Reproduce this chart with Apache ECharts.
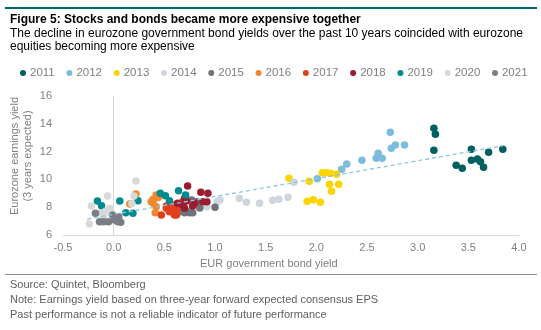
<!DOCTYPE html>
<html>
<head>
<meta charset="utf-8">
<script src="https://cdn.jsdelivr.net/npm/echarts@6/dist/echarts.min.js"></script>
<style>
  html, body { margin: 0; padding: 0; background: #fff; }
  #chart { width: 541px; height: 330px; }
</style>
</head>
<body>
<div id="chart"></div>
<script>
// Monthly pairs of [EUR government bond yield, eurozone 3-year expected earnings yield]
const years = ['2011', '2012', '2013', '2014', '2015', '2016', '2017', '2018', '2019', '2020', '2021'];

const y2011 = [[3.16,13.68],[3.175,13.24],[3.16,12.09],[3.38,11.01],[3.44,10.80],[3.53,12.17],[3.53,11.37],[3.59,11.47],[3.62,11.27],[3.65,10.87],[3.70,11.95],[3.84,12.17]];
const y2012 = [[2.01,10.05],[2.25,10.73],[2.30,11.10],[2.45,11.37],[2.59,11.52],[2.61,11.88],[2.65,11.52],[2.73,13.39],[2.74,12.24],[2.78,12.47],[2.87,12.47]];
const y2013 = [[1.73,10.08],[1.93,9.86],[2.06,10.48],[2.10,10.48],[2.14,10.44],[2.20,10.37],[2.13,9.65],[2.22,9.65],[2.15,9.14],[1.91,8.42],[1.97,8.54],[2.04,8.35]];
const y2014 = [[1.78,9.79],[1.72,8.71],[1.63,8.57],[1.57,8.50],[1.44,8.28],[1.31,8.35],[1.24,8.64],[1.05,8.52],[1.02,8.40],[0.92,8.04]];
const y2015 = [[0.65,7.68],[0.70,7.60],[0.75,7.60],[0.78,7.60],[0.72,7.70],[0.77,8.52],[0.82,8.40],[1.00,8.00],[0.60,7.75],[0.85,7.95]];
const y2016 = [[0.22,8.95],[0.16,8.23],[0.39,8.57],[0.42,8.88],[0.39,8.28],[0.41,7.60],[0.37,8.40],[0.42,8.04],[0.44,8.70]];
const y2017 = [[0.47,7.44],[0.55,7.80],[0.59,7.60],[0.60,8.16],[0.62,7.44],[0.68,8.40],[0.52,8.09],[0.55,7.68],[0.58,8.04],[0.62,7.85],[0.52,7.92],[0.60,7.44]];
const y2018 = [[0.73,9.53],[0.86,9.07],[0.93,9.00],[0.70,8.64],[0.68,8.16],[0.72,8.45],[0.80,8.28],[0.88,8.40],[0.92,8.40],[0.70,7.92],[0.78,8.09],[0.63,8.28]];
const y2019 = [[-0.16,8.45],[-0.12,8.11],[0.06,8.45],[0.12,7.60],[0.19,7.56],[0.24,8.47],[0.46,9.00],[0.51,8.83],[0.64,9.19],[0.55,8.47],[0.71,8.88]];
const y2020 = [[-0.24,6.79],[-0.22,8.09],[-0.06,8.80],[0.22,9.88],[0.20,8.80],[-0.14,7.56],[-0.04,7.92],[-0.08,7.70],[0.18,8.25],[-0.10,7.30]];
const y2021 = [[-0.18,7.56],[-0.14,6.96],[-0.10,6.96],[-0.05,6.96],[0.01,7.08],[0.04,6.96],[0.07,6.91],[-0.01,7.44],[0.05,7.32]];

const yearData = [y2011, y2012, y2013, y2014, y2015, y2016, y2017, y2018, y2019, y2020, y2021];
const yearColors = ['#005f61', '#7cbcdc', '#fcd400', '#cdd5df', '#6e7279', '#f0882e', '#e2401c', '#9c1c2f', '#008b8e', '#d9d9d9', '#7b7e84'];

// Linear trend endpoints
const trendX = [-0.26, 3.84];
const trendY = [7.15, 12.42];

// Axis ticks
const xMin = -0.5, xMax = 4.0, xStep = 0.5;
const yMin = 6, yMax = 16, yStep = 2;

const FONT = '"Liberation Sans", Arial, sans-serif';
const chart = echarts.init(document.getElementById('chart'), null, { renderer: 'canvas' });

const scatterSeries = years.map((yr, i) => ({
  name: yr,
  type: 'scatter',
  data: yearData[i],
  symbol: 'circle',
  symbolSize: 7.5,
  itemStyle: { color: yearColors[i], opacity: 1 },
  z: 3 + i
}));

chart.setOption({
  animation: false,
  backgroundColor: '#fff',
  textStyle: { fontFamily: FONT },
  title: [
    {
      text: 'Figure 5: Stocks and bonds became more expensive together',
      left: 5, top: 9,
      textStyle: { fontFamily: FONT, fontSize: 12, fontWeight: 'bold', color: '#000' }
    },
    {
      text: 'The decline in eurozone government bond yields over the past 10 years coincided with eurozone\nequities becoming more expensive',
      left: 5, top: 22,
      textStyle: { fontFamily: FONT, fontSize: 12, fontWeight: 'normal', color: '#000', lineHeight: 13 }
    },
    {
      text: 'Source: Quintet, Bloomberg\nNote: Earnings yield based on three-year forward expected consensus EPS\nPast performance is not a reliable indicator of future performance',
      left: 5, top: 272,
      textStyle: { fontFamily: FONT, fontSize: 11, fontWeight: 'normal', color: '#5f5f5f', lineHeight: 15 }
    }
  ],
  legend: {
    data: years,
    left: 15, top: 62,
    itemWidth: 6, itemHeight: 6, itemGap: 11.7,
    icon: 'circle',
    textStyle: { fontFamily: FONT, fontSize: 11.5, color: '#7f7f7f', padding: [0, 0, 0, -1] }
  },
  grid: { left: 63, right: 22, top: 96, bottom: 95 },
  xAxis: {
    type: 'value',
    min: xMin, max: xMax, interval: xStep,
    axisLine: { show: true, onZero: false, lineStyle: { color: '#d9d9d9', width: 1 } },
    axisTick: { show: false },
    splitLine: { show: false },
    axisLabel: { color: '#7f7f7f', fontSize: 11, fontFamily: FONT, margin: 7, formatter: v => v.toFixed(1) }
  },
  yAxis: {
    type: 'value',
    min: yMin, max: yMax, interval: yStep,
    axisLine: { show: false },
    axisTick: { show: false },
    splitLine: { show: false },
    axisLabel: { color: '#7f7f7f', fontSize: 11, fontFamily: FONT, margin: 11 }
  },
  series: [
    {
      name: 'trend',
      type: 'line',
      data: trendX.map((x, i) => [x, trendY[i]]),
      symbol: 'none',
      lineStyle: { color: '#8cc6e2', width: 1.3, type: [4, 3] },
      z: 20,
      silent: true,
      markLine: {
        silent: true,
        symbol: 'none',
        label: { show: false },
        lineStyle: { color: '#d9d9d9', width: 1, type: 'solid' },
        data: [{ xAxis: 0 }]
      }
    }
  ].concat(scatterSeries),
  graphic: [
    { type: 'rect', shape: { x: 5, y: 7, width: 532, height: 2 }, style: { fill: '#00666a' } },
    { type: 'line', shape: { x1: 5, y1: 274.5, x2: 537, y2: 274.5 }, style: { stroke: '#8c8c8c', lineWidth: 1 } },
    {
      type: 'text', left: 200, top: 258,
      style: { text: 'EUR government bond yield', fill: '#7f7f7f', font: '11px ' + FONT }
    },
    {
      type: 'text', x: 9, y: 156, rotation: Math.PI / 2,
      style: { text: 'Eurozone earnings yield', fill: '#7f7f7f', font: '11px ' + FONT, align: 'center', verticalAlign: 'top' }
    },
    {
      type: 'text', x: 22, y: 156, rotation: Math.PI / 2,
      style: { text: '(3 years expected)', fill: '#7f7f7f', font: '11px ' + FONT, align: 'center', verticalAlign: 'top' }
    }
  ]
});
</script>
</body>
</html>
